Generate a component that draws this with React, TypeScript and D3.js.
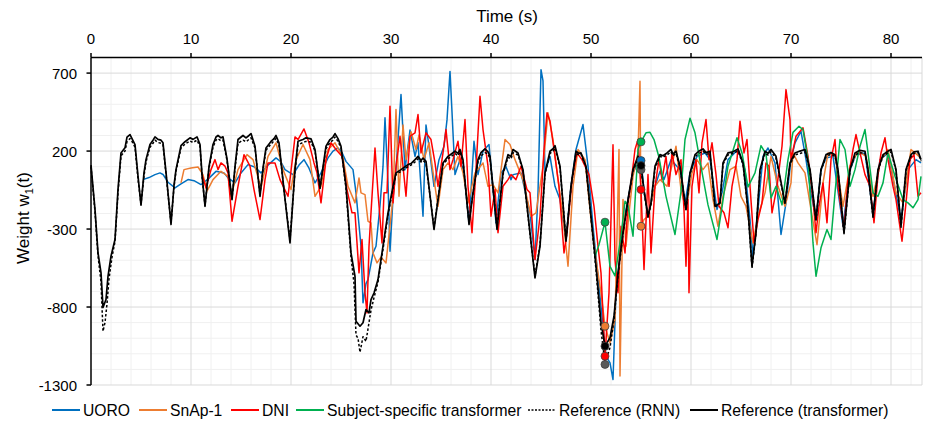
import React from "react";
import * as d3 from "d3";

type P = [number, number];

const xTicks = [0, 10, 20, 30, 40, 50, 60, 70, 80];
const yTicks = [700, 200, -300, -800, -1300];

const refTransformer: P[] = [[0,110],[0.4,-175],[0.7,-452],[1.0,-581],[1.2,-803],[1.5,-752],[1.7,-603],[2.0,-474],[2.4,-367],[2.7,-47],[3.0,188],[3.4,221],[3.6,290],[3.9,306],[4.1,280],[4.4,242],[4.7,40],[5.0,-147],[5.3,60],[5.5,145],[5.9,242],[6.2,270],[6.4,291],[6.7,275],[7.0,270],[7.2,253],[7.6,0],[8.0,-271],[8.3,-20],[8.5,81],[9.0,235],[9.4,260],[9.9,285],[10.2,275],[10.6,291],[10.9,242],[11.1,50],[11.4,-154],[11.8,100],[12.2,242],[12.5,290],[12.7,300],[13.0,285],[13.2,291],[13.6,150],[14.1,-111],[14.4,100],[14.7,274],[15.2,300],[15.5,285],[15.8,300],[16.0,312],[16.4,231],[16.9,-90],[17.2,90],[17.5,220],[18.0,262],[18.3,280],[18.5,300],[18.8,253],[19.3,-50],[19.9,-389],[20.4,81],[20.7,263],[21.2,274],[21.5,285],[22.0,278],[22.4,210],[22.9,-36],[23.5,231],[23.9,274],[24.2,290],[24.4,312],[24.7,280],[25.0,231],[25.5,-25],[26.0,-453],[26.4,-603],[26.5,-891],[26.9,-923],[27.2,-901],[27.5,-816],[27.8,-838],[28.0,-752],[28.3,-710],[28.7,-624],[29.2,-410],[29.7,-196],[30.2,-26],[30.5,60],[31.0,81],[31.3,95],[31.7,113],[32.0,120],[32.4,145],[32.7,166],[33.0,140],[33.2,155],[33.5,134],[34.3,-303],[34.7,-111],[35.2,124],[35.7,166],[36.0,180],[36.4,199],[36.7,185],[36.9,210],[37.2,145],[37.8,-271],[38.2,-68],[38.7,145],[39.0,190],[39.4,214],[39.7,195],[39.9,166],[40.6,-303],[41.2,60],[41.7,177],[42.0,165],[42.2,210],[42.7,188],[43.2,81],[43.9,-324],[44.4,-613],[44.9,-410],[45.4,60],[45.9,199],[46.2,215],[46.4,235],[46.9,103],[47.5,-378],[48.0,-26],[48.5,199],[48.8,185],[49.0,188],[49.5,103],[50.0,-218],[50.5,-538],[51.0,-901],[51.4,-1051],[51.9,-997],[52.3,-859],[52.7,-581],[53.2,-324],[53.7,-111],[54.2,81],[54.7,167],[55.0,103],[55.3,-50],[55.7,-218],[56.0,-132],[56.4,103],[56.9,177],[57.2,170],[57.6,188],[58.0,210],[58.2,180],[58.5,199],[58.9,103],[59.5,-175],[59.9,60],[60.4,177],[60.8,200],[61.2,214],[61.5,190],[61.9,199],[62.4,-154],[62.9,-132],[63.2,124],[63.7,188],[64.2,195],[64.7,214],[65.2,124],[65.7,-175],[66.1,-538],[66.5,-324],[66.9,81],[67.4,199],[67.7,185],[68.0,210],[68.5,166],[69.4,-132],[69.9,124],[70.4,188],[70.9,200],[71.4,210],[71.9,81],[72.5,-239],[73.0,81],[73.5,177],[74.0,190],[74.4,177],[74.7,81],[75.3,-324],[75.9,81],[76.4,188],[76.9,205],[77.4,199],[77.7,81],[78.2,-218],[78.7,81],[79.2,177],[79.6,195],[80.0,210],[80.5,81],[81.0,-282],[81.5,81],[82.0,177],[82.3,195],[82.7,199],[83.0,145]];

const refRNN: P[] = [[0,100],[0.4,-190],[0.7,-470],[1.0,-640],[1.2,-955],[1.4,-900],[1.6,-780],[1.8,-620],[2.1,-480],[2.4,-380],[2.7,-70],[3.0,170],[3.4,200],[3.6,260],[3.9,280],[4.1,262],[4.4,225],[4.7,20],[5.0,-140],[5.3,40],[5.5,130],[5.9,225],[6.2,250],[6.4,270],[6.7,255],[7.0,250],[7.2,240],[7.6,-10],[8.0,-260],[8.3,-30],[8.5,70],[9.0,220],[9.4,245],[9.9,265],[10.2,255],[10.6,270],[10.9,230],[11.1,40],[11.4,-150],[11.8,90],[12.2,225],[12.5,270],[12.7,280],[13.0,265],[13.2,270],[13.6,140],[14.1,-105],[14.4,90],[14.7,250],[15.2,270],[15.5,260],[15.8,275],[16.0,285],[16.4,220],[16.9,-80],[17.2,80],[17.5,205],[18.0,245],[18.3,265],[18.5,280],[18.8,240],[19.3,-50],[19.9,-370],[20.4,70],[20.7,240],[21.2,255],[21.5,262],[22.0,258],[22.4,200],[22.9,-40],[23.5,215],[23.9,255],[24.2,270],[24.4,290],[24.7,262],[25.0,220],[25.5,-40],[26.0,-480],[26.3,-650],[26.5,-980],[26.7,-1000],[26.9,-1090],[27.2,-990],[27.5,-1020],[27.8,-900],[28.0,-820],[28.3,-740],[28.7,-640],[29.2,-430],[29.7,-210],[30.2,-40],[30.5,50],[31.0,70],[31.3,80],[31.7,100],[32.0,110],[32.4,130],[32.7,150],[33.0,130],[33.2,140],[33.5,120],[34.3,-290],[34.7,-105],[35.2,115],[35.7,150],[36.0,165],[36.4,185],[36.7,170],[36.9,195],[37.2,135],[37.8,-260],[38.2,-70],[38.7,130],[39.0,170],[39.4,190],[39.7,180],[39.9,150],[40.6,-290],[41.2,50],[41.7,160],[42.0,150],[42.2,190],[42.7,175],[43.2,75],[43.9,-330],[44.4,-600],[44.9,-400],[45.4,55],[45.9,185],[46.2,200],[46.4,220],[46.9,95],[47.5,-370],[48.0,-30],[48.5,185],[48.8,175],[49.0,180],[49.5,95],[50.0,-230],[50.5,-560],[51.0,-950],[51.4,-1160],[51.9,-1060],[52.3,-880],[52.7,-600],[53.2,-330],[53.7,-120],[54.2,70],[54.7,150],[55.0,80],[55.3,-60],[55.7,-225],[56.0,-140],[56.4,90],[56.9,165],[57.2,160],[57.6,175],[58.0,195],[58.2,170],[58.5,185],[58.9,95],[59.5,-180],[59.9,50],[60.4,165],[60.8,185],[61.2,200],[61.5,180],[61.9,185],[62.4,-160],[62.9,-135],[63.2,115],[63.7,175],[64.2,185],[64.7,200],[65.2,115],[65.7,-180],[66.1,-550],[66.5,-330],[66.9,70],[67.4,185],[67.7,175],[68.0,195],[68.5,155],[69.4,-140],[69.9,115],[70.4,175],[70.9,185],[71.4,195],[71.9,75],[72.5,-250],[73.0,75],[73.5,165],[74.0,180],[74.4,165],[74.7,75],[75.3,-330],[75.9,75],[76.4,175],[76.9,190],[77.4,185],[77.7,75],[78.2,-225],[78.7,75],[79.2,165],[79.6,185],[80.0,195],[80.5,75],[81.0,-290],[81.5,75],[82.0,165],[82.3,185],[82.7,190],[83.0,135]];

const uoro: P[] = [[5.2,17],[5.8,30],[6.4,49],[6.9,60],[7.2,50],[7.7,0],[8.4,-36],[9.0,-10],[9.7,17],[10.3,10],[11.0,-15],[11.7,20],[12.5,70],[13.3,60],[13.7,28],[14.4,-4],[15.0,60],[15.7,113],[16.3,100],[17.0,60],[17.7,110],[18.5,156],[19.0,130],[19.4,81],[20.2,49],[20.8,110],[21.3,145],[21.8,90],[22.4,-4],[23.0,60],[23.7,156],[24.2,200],[24.7,220],[25.1,190],[25.5,134],[26.2,81],[26.5,-68],[27.0,-410],[27.2,-773],[27.5,-650],[27.7,-624],[28.2,-453],[28.5,-410],[28.9,-150],[29.2,100],[29.4,413],[29.7,-4],[29.9,-442],[30.2,-100],[30.5,81],[31.0,562],[31.4,81],[31.9,335],[32.4,166],[32.7,253],[33.2,-218],[33.5,367],[33.8,231],[34.3,-26],[34.8,145],[35.3,231],[35.6,400],[35.9,711],[36.1,450],[36.4,49],[36.9,145],[37.3,60],[37.8,-260],[38.3,263],[38.7,49],[39.2,200],[39.8,242],[40.5,-260],[41.0,60],[41.5,100],[42.0,17],[42.2,49],[43.0,60],[43.9,-196],[44.4,-496],[44.7,-68],[45.0,722],[45.2,650],[45.4,60],[45.9,166],[46.4,-26],[46.9,-111],[47.5,-367],[48.0,-26],[48.5,210],[49.2,370],[49.7,103],[50.2,-282],[50.7,-603],[51.2,-923],[51.5,-1115],[51.9,-1158],[52.2,-1265],[52.5,-709],[53.0,-410],[53.5,-175],[54.2,60],[54.7,124],[55.0,139],[55.3,-50],[55.7,-218],[56.4,-26],[56.9,70],[57.3,17],[58.0,145],[58.9,81],[59.4,-132],[59.9,60],[60.6,166],[61.4,188],[61.9,145],[62.6,-175],[63.1,-68],[63.7,145],[64.7,210],[65.4,81],[65.9,-239],[66.2,-474],[66.7,-175],[67.2,166],[67.7,220],[68.4,124],[69.0,-335],[69.5,-132],[70.0,145],[70.4,253],[71.0,327],[71.5,145],[72.0,-68],[72.5,-239],[73.0,81],[73.5,155],[74.2,166],[75.2,-282],[75.9,81],[76.5,177],[77.4,188],[78.2,-196],[78.9,145],[79.7,188],[81.0,-239],[81.7,81],[82.5,145],[83.0,124]];

const snap1: P[] = [[9.0,-4],[9.3,81],[10.0,92],[10.7,98],[11.2,49],[11.6,-57],[12.2,17],[13.0,70],[13.7,38],[14.0,-90],[14.7,81],[15.6,177],[16.2,145],[17.0,-36],[17.7,166],[18.5,253],[19.2,81],[20.0,-47],[20.5,145],[21.2,242],[21.9,145],[22.4,-90],[23.0,-26],[23.7,210],[24.4,253],[25.2,156],[25.7,-26],[26.4,-132],[26.8,28],[27.0,-68],[27.4,-79],[27.7,-250],[28.0,-260],[28.2,-453],[28.6,-517],[29.0,-480],[29.5,-517],[30.0,-218],[30.2,-100],[30.5,466],[30.8,-90],[31.2,367],[31.5,145],[32.0,324],[32.5,210],[32.8,303],[33.3,145],[33.8,253],[34.4,-26],[34.7,-154],[35.2,81],[35.7,124],[36.2,81],[36.7,166],[37.2,60],[37.7,-132],[38.4,60],[39.2,124],[39.7,-26],[40.2,-15],[40.7,-68],[41.4,274],[41.9,242],[42.4,145],[43.2,17],[44.0,-218],[44.5,-196],[45.2,103],[45.7,445],[46.2,274],[46.7,17],[47.2,-218],[47.7,-538],[48.2,-26],[48.7,210],[49.4,145],[50.0,-239],[50.5,-496],[51.0,-709],[51.4,-923],[51.9,-1030],[52.4,-880],[52.8,210],[52.9,-1243],[53.2,-111],[53.5,-410],[53.8,-196],[54.2,38],[54.7,188],[54.9,648],[55.0,-282],[55.3,-239],[55.7,-218],[56.4,-26],[56.9,17],[57.6,-26],[58.0,81],[58.5,231],[59.0,-47],[59.5,-175],[60.1,60],[60.6,145],[61.2,81],[61.7,124],[62.2,-111],[62.7,-282],[63.2,-90],[63.9,81],[64.5,103],[65.0,-90],[65.5,-154],[66.2,-389],[66.7,-218],[67.4,-68],[68.0,166],[68.7,-26],[69.4,-154],[70.0,-4],[70.2,188],[70.7,124],[71.4,60],[72.0,-175],[72.6,-400],[73.2,-4],[73.7,188],[74.4,177],[75.2,-154],[75.9,103],[76.7,199],[77.5,166],[78.2,-90],[79.0,145],[79.7,210],[80.5,-68],[81.2,-132],[82.0,210],[82.8,166]];

const dni: P[] = [[11.1,50],[11.5,-36],[12.0,81],[12.4,145],[12.7,81],[13.0,124],[13.4,103],[13.7,60],[14.1,-250],[14.7,-26],[15.3,177],[15.9,103],[16.3,-47],[16.9,-239],[17.4,17],[17.7,124],[18.4,124],[18.9,17],[19.7,-90],[20.4,291],[20.7,274],[21.3,342],[21.8,253],[22.3,124],[22.6,60],[23.0,-132],[23.5,145],[24.0,253],[24.5,210],[25.1,166],[25.6,-47],[26.1,-196],[26.4,-196],[26.8,-581],[27.1,-367],[27.4,-709],[27.6,-838],[27.8,-410],[28.0,-196],[28.4,220],[28.7,-68],[29.1,-389],[29.3,-68],[29.6,-68],[29.9,487],[30.2,-132],[30.5,103],[30.9,295],[31.2,103],[31.5,-90],[31.9,295],[32.4,317],[32.7,434],[33.0,188],[33.5,317],[34.0,274],[34.4,124],[34.7,-26],[35.2,188],[35.5,338],[35.9,81],[36.2,145],[36.7,263],[37.0,103],[37.4,402],[37.7,-26],[38.1,-324],[38.5,81],[38.9,551],[39.2,338],[39.7,103],[40.0,-218],[40.4,-47],[40.7,-324],[41.2,-26],[41.7,17],[42.0,49],[42.5,17],[43.0,103],[43.6,-47],[43.9,-68],[44.4,-496],[44.9,-218],[45.3,210],[45.6,445],[45.9,392],[46.3,210],[46.8,-26],[47.3,-453],[47.6,-324],[48.1,17],[48.6,188],[49.1,145],[49.8,49],[50.3,-154],[50.7,-410],[51.0,-581],[51.4,-1115],[51.8,-709],[52.2,240],[52.4,-496],[52.7,-709],[53.0,-282],[53.4,-453],[53.7,-132],[54.0,-4],[54.4,210],[54.7,274],[55.0,-47],[55.3,-560],[55.7,49],[56.0,-453],[56.4,-26],[56.8,145],[57.1,17],[57.5,166],[57.8,-26],[58.1,188],[58.5,49],[59.0,145],[59.3,-175],[59.5,-538],[59.7,-111],[59.8,-709],[60.1,-26],[60.5,145],[60.8,-68],[61.1,253],[61.5,402],[61.8,145],[62.1,253],[62.5,49],[62.8,-154],[63.3,-196],[63.7,-292],[64.1,-26],[64.6,145],[64.9,392],[65.3,188],[65.6,274],[65.9,-26],[66.3,-389],[66.7,-239],[67.1,-132],[67.5,124],[67.8,103],[68.1,-196],[68.6,-26],[69.1,231],[69.5,594],[69.9,402],[70.0,145],[70.5,295],[71.2,349],[71.7,166],[72.2,-111],[72.5,-324],[72.8,-154],[73.2,-4],[73.6,-260],[74.0,145],[74.4,274],[74.7,-26],[75.3,-303],[75.7,17],[76.2,210],[76.5,306],[76.9,188],[77.4,49],[77.9,-26],[78.3,-260],[78.7,49],[79.0,188],[79.4,285],[79.7,145],[80.2,-26],[80.5,-111],[81.1,-378],[81.5,-132],[81.9,145],[82.3,177],[82.7,-90],[83.0,-68]];

const subjectTransformer: P[] = [[50.4,-474],[50.8,-400],[51.4,-256],[51.9,-540],[52.4,-600],[53.0,-346],[53.4,-122],[53.7,-150],[54.2,-346],[54.7,210],[55.0,259],[55.5,317],[55.9,320],[56.3,274],[56.8,160],[57.5,-90],[58.4,-335],[59.0,-60],[59.4,274],[59.9,410],[60.4,317],[61.0,100],[61.7,-145],[62.6,-367],[63.1,-160],[63.7,103],[64.6,285],[65.1,188],[65.7,-30],[66.4,60],[67.0,235],[67.5,180],[68.0,-100],[68.5,-26],[69.1,-145],[69.7,145],[70.2,320],[70.8,359],[71.2,338],[71.7,145],[72.2,-389],[72.5,-603],[73.0,-420],[73.6,-303],[74.0,-367],[74.4,-68],[74.9,274],[75.4,210],[75.9,-26],[76.4,81],[76.9,231],[77.4,338],[77.7,188],[78.2,-68],[78.7,-90],[79.2,-4],[79.7,188],[80.4,38],[81.2,-111],[81.7,-132],[82.2,-164],[82.7,-111],[83.0,38]];

// highlighted points: [time, value, series]
const markerPoints: [number, number, string][] = [
  [51.4, -1168, "rnn"], [51.4, -1051, "transformer"], [51.4, -1115, "dni"], [51.4, -923, "snap"], [51.4, -256, "subject"],
  [55.0, 139, "uoro"], [55.0, 81, "rnn"], [55.0, 107, "transformer"], [55.0, -47, "dni"], [55.0, -282, "snap"], [55.0, 259, "subject"],
];

const legendItems = [
  { label: "UORO", key: "uoro" },
  { label: "SnAp-1", key: "snap" },
  { label: "DNI", key: "dni" },
  { label: "Subject-specific transformer", key: "subject" },
  { label: "Reference (RNN)", key: "rnn" },
  { label: "Reference (transformer)", key: "transformer" },
];

const COLORS: Record<string, string> = {
  uoro: "#0070c0",
  snap: "#ed7d31",
  dni: "#ff0000",
  subject: "#00b050",
  rnn: "#000000",
  transformer: "#000000",
};
const MARKER_FILL: Record<string, string> = { ...COLORS, rnn: "#595959", transformer: "#000000" };

const W = 944, H = 427;
const L = 91, R = 922, T = 57.5, B = 385;
const FONT = "Arial, 'Liberation Sans', Helvetica, sans-serif";

export default function App() {
  const x = d3.scaleLinear().domain([0, 83.1]).range([L, R]);
  const y = d3.scaleLinear().domain([-1300, 800]).range([B, T]);
  const line = d3.line<P>().x((d) => x(d[0])).y((d) => y(d[1]));

  const minorX = d3.range(2, 84, 2).filter((v) => v % 10 !== 0);
  const minorY = d3.range(-1200, 800, 100).filter((v) => (v + 1300) % 500 !== 0);

  const series = [
    { key: "uoro", data: uoro, w: 1.5, dash: undefined as string | undefined },
    { key: "snap", data: snap1, w: 1.5, dash: undefined },
    { key: "dni", data: dni, w: 1.5, dash: undefined },
    { key: "subject", data: subjectTransformer, w: 1.5, dash: undefined },
    { key: "rnn", data: refRNN, w: 1.5, dash: "2.5,2" },
    { key: "transformer", data: refTransformer, w: 1.7, dash: undefined },
  ];

  const markerOrder = ["rnn", "uoro", "transformer", "dni", "snap", "subject"];
  const sortedMarkers = [...markerPoints].sort((a, b) => markerOrder.indexOf(a[2]) - markerOrder.indexOf(b[2]));

  const legendX = [52, 139, 231, 296, 528, 690];

  return (
    <svg width={W} height={H} style={{ position: "absolute", left: 0, top: 0, background: "#fff" }} fontFamily={FONT}>
      <rect x={0} y={0} width={W} height={H} fill="#fff" />
      {/* minor grid */}
      {minorX.map((v) => (
        <line key={"mx" + v} x1={x(v)} x2={x(v)} y1={T} y2={B} stroke="#f0f0f0" strokeWidth={1} />
      ))}
      {minorY.map((v) => (
        <line key={"my" + v} x1={L} x2={R} y1={y(v)} y2={y(v)} stroke="#f0f0f0" strokeWidth={1} />
      ))}
      {/* major grid */}
      {xTicks.filter((v) => v > 0).map((v) => (
        <line key={"gx" + v} x1={x(v)} x2={x(v)} y1={T} y2={B} stroke="#d9d9d9" strokeWidth={1} />
      ))}
      {yTicks.map((v) => (
        <line key={"gy" + v} x1={L} x2={R} y1={y(v)} y2={y(v)} stroke="#d9d9d9" strokeWidth={1} />
      ))}
      <line x1={R} x2={R} y1={T} y2={B} stroke="#d9d9d9" strokeWidth={1} />

      {/* series */}
      {series.map((s) => (
        <path key={s.key} d={line(s.data) || ""} fill="none" stroke={COLORS[s.key]} strokeWidth={s.w}
          strokeDasharray={s.dash} strokeLinejoin="round" />
      ))}

      {/* markers */}
      {sortedMarkers.map((m, i) => (
        <circle key={"m" + i} cx={x(m[0])} cy={y(m[1])} r={4} fill={MARKER_FILL[m[2]]} stroke="#404040" strokeWidth={0.8} />
      ))}

      {/* top axis */}
      <line x1={L} x2={R} y1={T} y2={T} stroke="#000" strokeWidth={1.5} />
      {xTicks.map((v) => (
        <g key={"xt" + v}>
          <line x1={x(v)} x2={x(v)} y1={T} y2={T - 4.5} stroke="#000" strokeWidth={1.5} />
          <text x={x(v)} y={44} textAnchor="middle" fontSize={15} fill="#000">{v}</text>
        </g>
      ))}
      <text x={507} y={22} textAnchor="middle" fontSize={17} fill="#000">Time (s)</text>

      {/* left axis */}
      <line x1={L} x2={L} y1={T} y2={B} stroke="#000" strokeWidth={1.5} />
      {yTicks.map((v) => (
        <g key={"yt" + v}>
          <line x1={L - 4.5} x2={L} y1={y(v)} y2={y(v)} stroke="#000" strokeWidth={1.5} />
          <text x={77} y={y(v) + 5.5} textAnchor="end" fontSize={15} fill="#000">{v}</text>
        </g>
      ))}
      <text transform="translate(29,218) rotate(-90)" textAnchor="middle" fontSize={17} fill="#000">
        Weight w<tspan fontSize={11} dy={4}>1</tspan><tspan dy={-4}>(t)</tspan>
      </text>

      {/* legend */}
      {legendItems.map((it, i) => (
        <g key={it.key}>
          <line x1={legendX[i]} x2={legendX[i] + 28} y1={410} y2={410} stroke={COLORS[it.key]}
            strokeWidth={it.key === "rnn" ? 1.3 : 2} strokeDasharray={it.key === "rnn" ? "2,1.5" : undefined} />
          <text x={legendX[i] + 31} y={415.5} fontSize={15.7} fill="#000">{it.label}</text>
        </g>
      ))}
    </svg>
  );
}
